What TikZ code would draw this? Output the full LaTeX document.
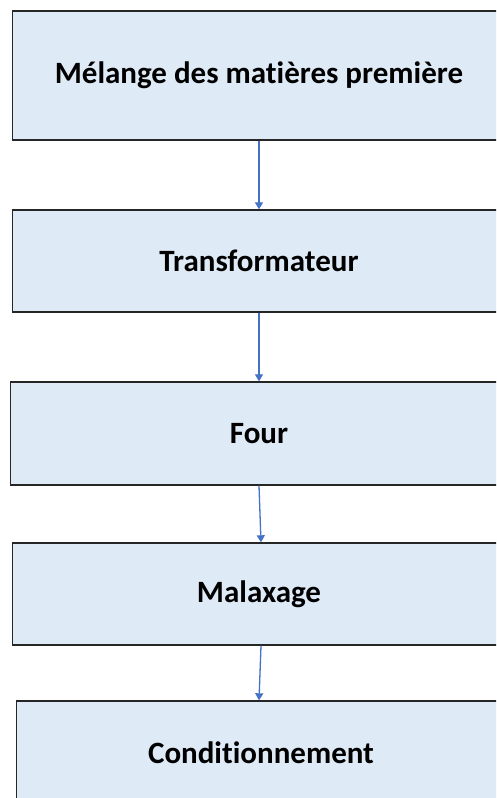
\documentclass[tikz,border=0pt]{standalone}
\usepackage{fontspec}
\setmainfont[Ligatures=NoCommon]{Carlito}
\usetikzlibrary{arrows.meta}
\definecolor{boxfill}{HTML}{DEEAF6}
\definecolor{arrowblue}{HTML}{4472C4}
\definecolor{boxline}{HTML}{262626}
\begin{document}
\begin{tikzpicture}[x=1pt,y=-1pt,
  stepbox/.style={draw=boxline,line width=1.4pt,fill=boxfill,minimum width=493pt,
    inner sep=0pt,font=\fontsize{31}{36}\selectfont\bfseries},
  flow/.style={draw=arrowblue,line width=1.3pt,-{Triangle[width=8pt,length=7pt]}}]
\useasboundingbox (0,0) rectangle (496,798);
\clip (0,0) rectangle (496,798);
\fill[white] (0,0) rectangle (496,798);
\node[stepbox,minimum height=129pt] (b1) at (259,75.5) {Mélange des matières première};
\node[stepbox,minimum height=102pt] (b2) at (259,261) {Transformateur};
\node[stepbox,minimum height=103pt,minimum width=497pt] (b3) at (259,433.5) {Four};
\node[stepbox,minimum height=102pt] (b4) at (259,594) {Malaxage};
\node[stepbox,minimum height=104pt,minimum width=489pt] (b5) at (261,753) {Conditionnement};
\draw[flow] (b1.south -| 259,0) -- (b2.north -| 259,0);
\draw[flow] (b2.south -| 259,0) -- (b3.north -| 259,0);
\draw[flow] (b3.south -| 259,0) -- (b4.north -| 261,0);
\draw[flow] (b4.south -| 261,0) -- (b5.north -| 259,0);
\end{tikzpicture}
\end{document}
